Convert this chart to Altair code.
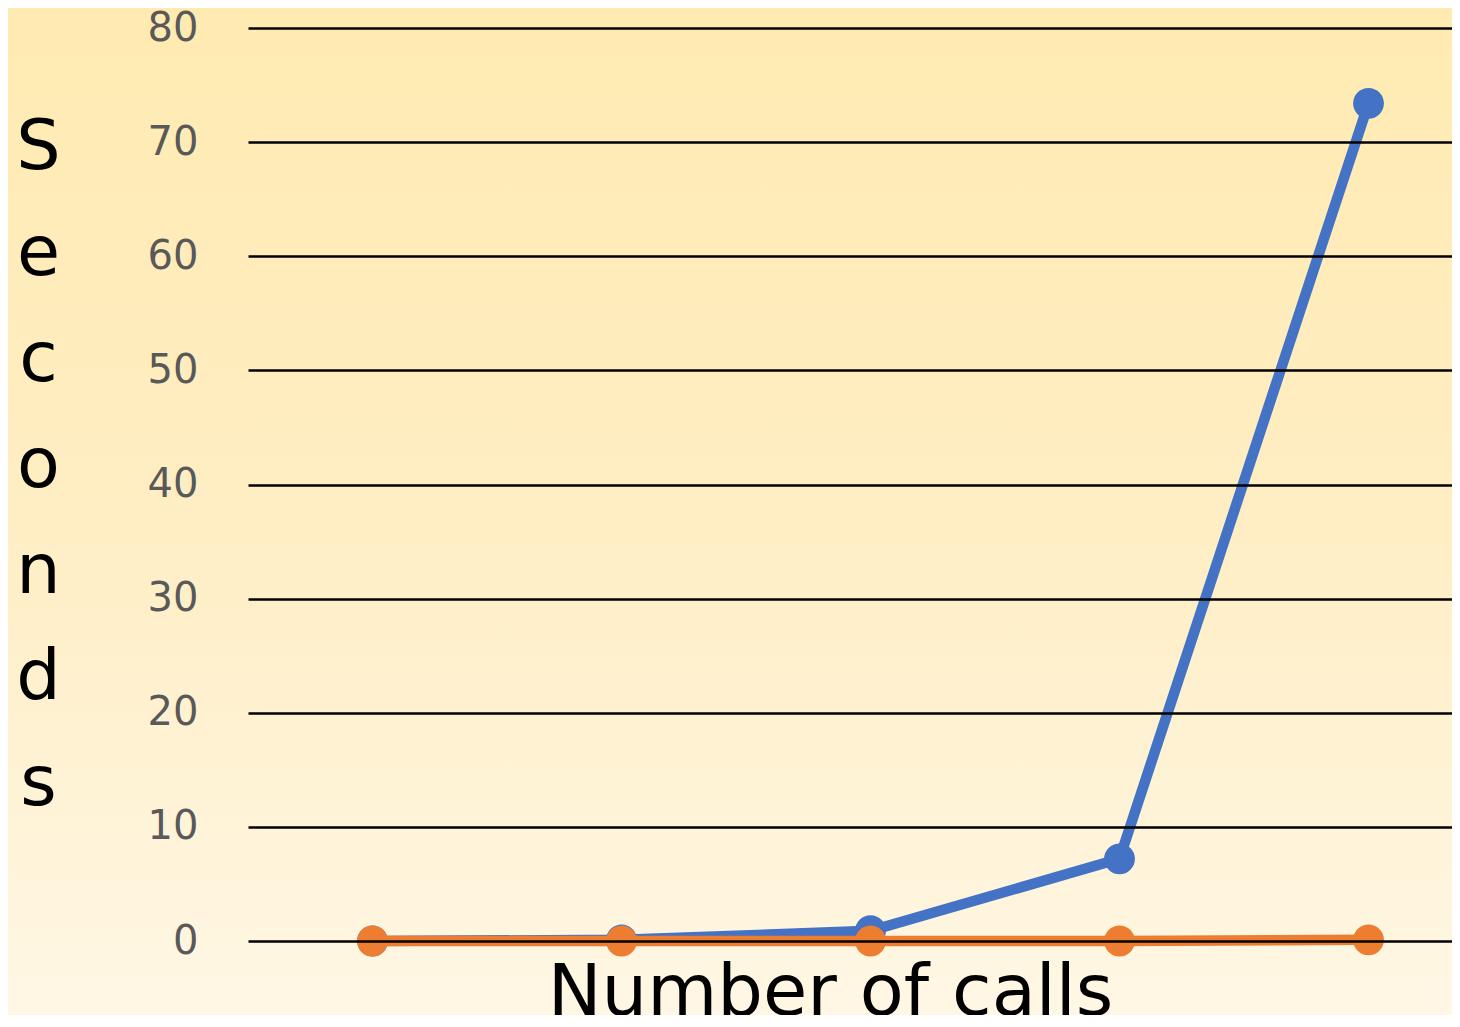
import altair as alt
import pandas as pd

calls = [1, 2, 3, 4, 5]
blue_vals = [0.0, 0.1, 0.9, 7.2, 73.4]
orange_vals = [0.0, 0.0, 0.0, 0.0, 0.1]
y_ticks = [0, 10, 20, 30, 40, 50, 60, 70, 80]

df = pd.DataFrame(
    {"calls": calls * 2,
     "seconds": blue_vals + orange_vals,
     "series": ["A"] * 5 + ["B"] * 5}
)

W, H = 1204, 913
FONT = "DejaVu Sans"

bg = alt.Chart(alt.Data(values=[{"a": 1}])).mark_rect(
    fill=alt.Gradient(
        gradient="linear",
        stops=[alt.GradientStop(color="#FFEAB0", offset=0),
               alt.GradientStop(color="#FFEEC4", offset=0.5),
               alt.GradientStop(color="#FFF8E8", offset=1)],
        x1=0, x2=0, y1=0, y2=1),
).encode(x=alt.value(-260), x2=alt.value(W + 20), y=alt.value(-40), y2=alt.value(H + 120))

xscale = alt.Scale(domain=[0.5, 0.5 + W / 249.0], nice=False, zero=False)
yscale = alt.Scale(domain=[0, 80], nice=False)

base = alt.Chart(df).encode(
    x=alt.X("calls:Q", scale=xscale,
            axis=alt.Axis(labels=False, ticks=False, domain=False, grid=False, zindex=1,
                          title="Number of calls", titleFontSize=72, titleFont=FONT,
                          titleFontWeight="normal", titleColor="#000000",
                          titleX=582, titleY=73, titleAlign="center",
                          titleBaseline="alphabetic")),
    y=alt.Y("seconds:Q", scale=yscale,
            axis=alt.Axis(values=y_ticks, domain=False, ticks=False, grid=True, zindex=1,
                          gridColor="#000000", gridWidth=2.5, gridOpacity=1,
                          labelFontSize=40, labelColor="#595959", labelFont=FONT,
                          labelPadding=50,
                          title=["S", "e", "c", "o", "n", "d", "s"],
                          titleAngle=0, titleFontSize=70, titleFont=FONT,
                          titleFontWeight="normal", titleColor="#000000",
                          titleLineHeight=106, titleAlign="center",
                          titleX=-210, titleY=85, titleBaseline="top")),
    color=alt.Color("series:N", scale=alt.Scale(domain=["A", "B"], range=["#4472C4", "#ED7D31"]),
                    legend=None),
    detail="series:N",
)

lines = base.mark_line(strokeWidth=10.5)
points = base.mark_point(filled=True, size=950, opacity=1)

layers = []
for s in ["A", "B"]:
    layers.append(lines.transform_filter(alt.datum.series == s))
    layers.append(points.transform_filter(alt.datum.series == s))

chart = alt.layer(bg, *layers).properties(
    width=W, height=H,
    autosize=alt.AutoSizeParams(type="none"),
    padding={"left": 240, "top": 20, "right": 0, "bottom": 74},
    background="#FFF8E8",
).configure_view(stroke=None)

chart.save("out.html", embed_options={"renderer": "svg", "actions": False})
